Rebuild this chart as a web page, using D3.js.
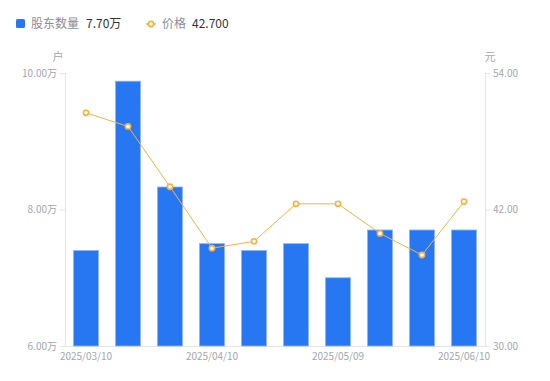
<!DOCTYPE html>
<html>
<head>
<meta charset="utf-8">
<script src="https://cdn.jsdelivr.net/npm/d3@7"></script>
<style>
    body { margin: 0; background: #fff; }
    text { font-family: "Noto Sans CJK SC", "Liberation Sans", sans-serif; }
</style>
</head>
<body>
<svg id="chart" width="550" height="381"></svg>
<script>
// data
var dates = ["2025/03/10", "2025/03/20", "2025/03/31", "2025/04/10", "2025/04/18",
             "2025/04/30", "2025/05/09", "2025/05/20", "2025/05/30", "2025/06/10"];
var holders = [7.40, 9.88, 8.33, 7.50, 7.40, 7.50, 7.00, 7.70, 7.70, 7.70]; // 万户
var prices = [50.50, 49.30, 44.00, 38.60, 39.20, 42.50, 42.50, 39.90, 38.00, 42.70]; // 元
var shownDates = ["2025/03/10", "2025/04/10", "2025/05/09", "2025/06/10"];
var leftTicks = [6, 8, 10];
var rightTicks = [30, 42, 54];

var barColor = "#2777f2";
var lineColor = "#f7b23d";
var labelColor = "#a2a5b3";
var axisColor = "#e3e4e8";

var svg = d3.select("#chart");
var plotL = 65, plotR = 485, plotT = 73, plotB = 346;

var x = d3.scaleBand().domain(dates).range([plotL, plotR]).paddingInner(0.4).paddingOuter(0.2);
var yL = d3.scaleLinear().domain([6, 10]).range([plotB, plotT]);
var yR = d3.scaleLinear().domain([30, 54]).range([plotB, plotT]);

// axes
var leftAxis = d3.axisLeft(yL).tickValues(leftTicks).tickSize(5).tickPadding(3)
    .tickFormat(function(d) { return d3.format(".2f")(d) + "万"; });
var gL = svg.append("g").attr("transform", "translate(" + plotL + ",0)").call(leftAxis);

var rightAxis = d3.axisRight(yR).tickValues(rightTicks).tickSize(5).tickPadding(3)
    .tickFormat(d3.format(".2f"));
var gR = svg.append("g").attr("transform", "translate(" + plotR + ",0)").call(rightAxis);

var bottomAxis = d3.axisBottom(x).tickValues(shownDates).tickSize(0).tickPadding(7);
var gB = svg.append("g").attr("transform", "translate(0," + plotB + ")").call(bottomAxis);
gB.select(".domain").attr("d", "M" + plotL + ",0.5H" + plotR);

[gL, gR, gB].forEach(function(g) {
    g.selectAll(".domain").attr("stroke", axisColor);
    g.selectAll(".tick line").attr("stroke", axisColor);
    g.selectAll(".tick text").attr("fill", labelColor).attr("font-size", "10px")
        .attr("font-family", "'Liberation Sans', sans-serif");
});
gL.selectAll(".tick text").attr("font-family", "'Liberation Sans', 'Noto Sans CJK SC', sans-serif");

// units
svg.append("text").attr("x", 58).attr("y", 61).attr("text-anchor", "middle")
    .attr("fill", labelColor).attr("font-size", "11px").text("户");
svg.append("text").attr("x", 490).attr("y", 61).attr("text-anchor", "middle")
    .attr("fill", labelColor).attr("font-size", "11px").text("元");

// bars
svg.append("g").selectAll("rect").data(holders).enter().append("rect")
    .attr("x", function(d, i) { return x(dates[i]); })
    .attr("y", function(d) { return yL(d); })
    .attr("width", x.bandwidth())
    .attr("height", function(d) { return plotB - yL(d); })
    .attr("fill", barColor)
    .attr("stroke", "#8fb8f7")
    .attr("stroke-width", 0.8);

// price line
var line = d3.line()
    .x(function(d, i) { return x(dates[i]) + x.bandwidth() / 2; })
    .y(function(d) { return yR(d); });
svg.append("path").datum(prices).attr("d", line)
    .attr("fill", "none").attr("stroke", lineColor).attr("stroke-width", 1);
svg.append("g").selectAll("circle").data(prices).enter().append("circle")
    .attr("cx", function(d, i) { return x(dates[i]) + x.bandwidth() / 2; })
    .attr("cy", function(d) { return yR(d); })
    .attr("r", 2.6)
    .attr("fill", "#fff").attr("stroke", lineColor).attr("stroke-width", 1.6);

// legend
var lg = svg.append("g");
lg.append("rect").attr("x", 16).attr("y", 19).attr("width", 9).attr("height", 9)
    .attr("rx", 1.5).attr("fill", barColor);
lg.append("text").attr("x", 31).attr("y", 28).attr("font-size", "12px")
    .attr("fill", "#8a8d99").text("股东数量");
lg.append("text").attr("x", 86).attr("y", 28).attr("font-size", "12px")
    .attr("fill", "#333").attr("font-family", "'Liberation Sans', 'Noto Sans CJK SC', sans-serif")
    .text(d3.format(".2f")(holders[holders.length - 1]) + "万");
lg.append("line").attr("x1", 146).attr("x2", 156).attr("y1", 24).attr("y2", 24)
    .attr("stroke", lineColor).attr("stroke-width", 1.5);
lg.append("circle").attr("cx", 151).attr("cy", 24).attr("r", 2.6)
    .attr("fill", "#fff").attr("stroke", lineColor).attr("stroke-width", 1.6);
lg.append("text").attr("x", 162).attr("y", 28).attr("font-size", "12px")
    .attr("fill", "#8a8d99").text("价格");
lg.append("text").attr("x", 192).attr("y", 28).attr("font-size", "12px")
    .attr("fill", "#333").attr("font-family", "'Liberation Sans', sans-serif")
    .text(d3.format(".3f")(prices[prices.length - 1]));
</script>
</body>
</html>
